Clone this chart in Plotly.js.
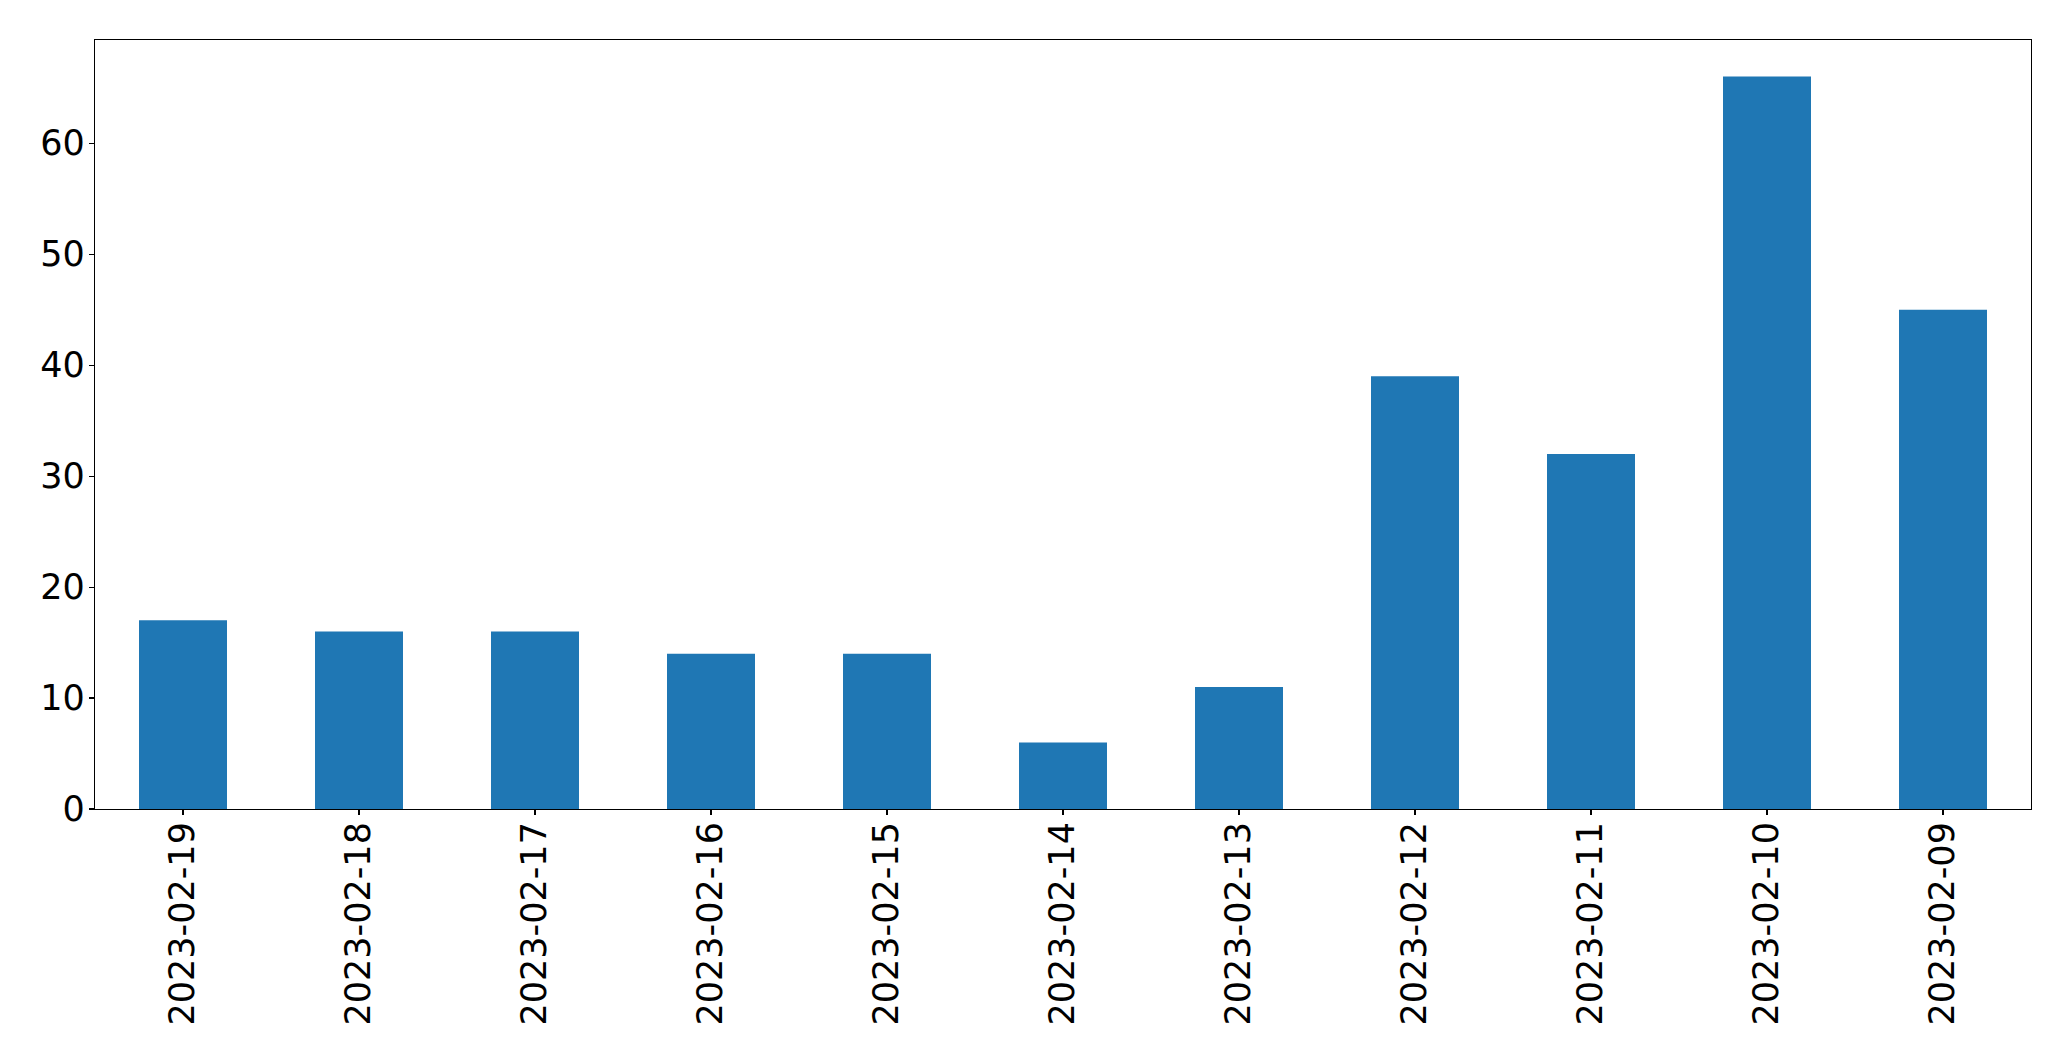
<!DOCTYPE html>
<html>
<head>
<meta charset="utf-8">
<script src="https://cdn.plot.ly/plotly-3.0.1.min.js"></script>
<style>html,body{margin:0;padding:0;background:#fff;}#chart{width:2071px;height:1061px;}</style>
</head>
<body>
<div id="chart"></div>
<script>
const categories = ["2023-02-19","2023-02-18","2023-02-17","2023-02-16","2023-02-15","2023-02-14","2023-02-13","2023-02-12","2023-02-11","2023-02-10","2023-02-09"];
const counts = [17, 16, 16, 14, 14, 6, 11, 39, 32, 66, 45];
const yTicks = [0, 10, 20, 30, 40, 50, 60];

const trace = {
  type: 'bar',
  x: categories,
  y: counts,
  width: 0.5,
  marker: {color: '#1f77b4', line: {width: 0}},
  hoverinfo: 'x+y'
};

const layout = {
  width: 2071,
  height: 1061,
  margin: {l: 95, r: 40, t: 40, b: 252, pad: 0},
  paper_bgcolor: '#ffffff',
  plot_bgcolor: '#ffffff',
  showlegend: false,
  font: {family: 'DejaVu Sans, sans-serif', color: '#000000', size: 35},
  xaxis: {
    type: 'category',
    range: [-0.5, categories.length - 0.5],
    tickangle: -90,
    ticks: 'outside', ticklen: 5, tickwidth: 1.1, tickcolor: '#000',
    ticklabelstandoff: -7,
    showline: true, linecolor: '#000', linewidth: 1.1, mirror: true,
    showgrid: false, zeroline: false,
    tickfont: {family: 'DejaVu Sans, sans-serif', size: 35, color: '#000'},
    automargin: false
  },
  yaxis: {
    range: [0, Math.max(...counts) * 1.05],
    tickmode: 'array', tickvals: yTicks, ticktext: yTicks.map(String),
    ticks: 'outside', ticklen: 5, tickwidth: 1.1, tickcolor: '#000',
    ticklabelstandoff: -3,
    showline: true, linecolor: '#000', linewidth: 1.1, mirror: true,
    showgrid: false, zeroline: false,
    tickfont: {family: 'DejaVu Sans, sans-serif', size: 35, color: '#000'},
    automargin: false
  },
  bargap: 0.5
};

Plotly.newPlot('chart', [trace], layout, {displayModeBar: false, staticPlot: true});
</script>
</body>
</html>
